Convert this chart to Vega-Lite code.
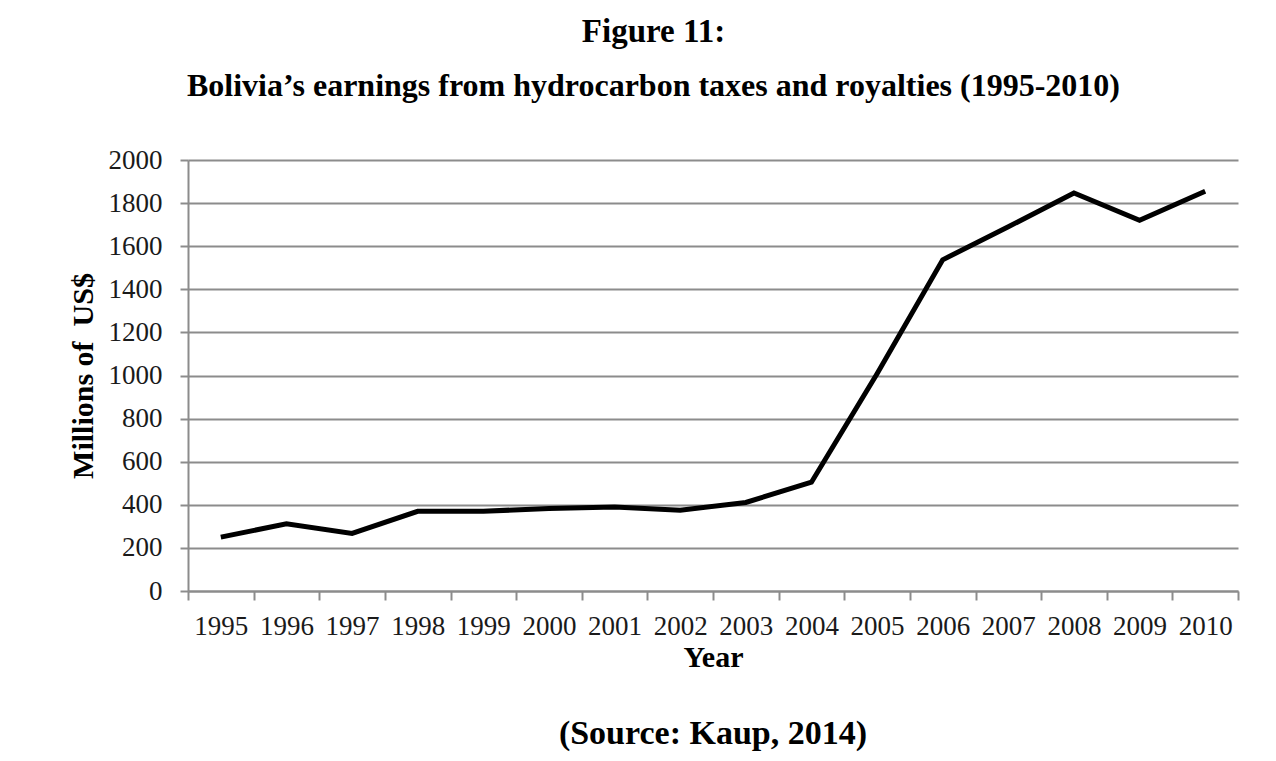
{
  "$schema": "https://vega.github.io/schema/vega-lite/v6.json",
  "background": "white",
  "padding": {"left": 68, "top": 16, "right": 30, "bottom": 10},
  "title": {
    "text": "Figure 11:",
    "subtitle": "Bolivia’s earnings from hydrocarbon taxes and royalties (1995-2010)",
    "font": "Liberation Serif",
    "fontSize": 33,
    "fontWeight": "bold",
    "color": "black",
    "subtitleFont": "Liberation Serif",
    "subtitleFontSize": 32,
    "subtitleFontWeight": "bold",
    "subtitleColor": "black",
    "subtitlePadding": 22,
    "anchor": "middle",
    "offset": 44
  },
  "vconcat": [
    {
      "width": 1050,
      "height": 431,
      "title": {
        "text": "(Source: Kaup, 2014)",
        "orient": "bottom",
        "font": "Liberation Serif",
        "fontSize": 34,
        "fontWeight": "bold",
        "color": "black",
        "anchor": "middle",
        "offset": 45
      },
      "data": {
        "values": [
          {"year": "1995", "earnings": 250},
          {"year": "1996", "earnings": 312},
          {"year": "1997", "earnings": 267},
          {"year": "1998", "earnings": 370},
          {"year": "1999", "earnings": 370},
          {"year": "2000", "earnings": 383},
          {"year": "2001", "earnings": 390},
          {"year": "2002", "earnings": 375},
          {"year": "2003", "earnings": 411},
          {"year": "2004", "earnings": 505},
          {"year": "2005", "earnings": 1008},
          {"year": "2006", "earnings": 1537},
          {"year": "2007", "earnings": 1690},
          {"year": "2008", "earnings": 1847},
          {"year": "2009", "earnings": 1720},
          {"year": "2010", "earnings": 1855}
        ]
      },
      "mark": {"type": "line", "color": "black", "strokeWidth": 5, "strokeJoin": "miter"},
      "encoding": {
        "x": {
          "field": "year",
          "type": "ordinal",
          "bandPosition": 0.5,
          "scale": {"type": "band", "paddingInner": 0, "paddingOuter": 0},
          "axis": {
            "title": "Year",
            "titleFont": "Liberation Serif",
            "titleFontSize": 30,
            "titleFontWeight": "bold",
            "titleColor": "black",
            "titlePadding": 3,
            "labelFont": "Liberation Serif",
            "labelFontSize": 27,
            "labelColor": "#1a1a1a",
            "labelAngle": 0,
            "labelPadding": 13,
            "tickBand": "extent",
            "tickSize": 9,
            "tickWidth": 2,
            "tickColor": "#8c8c8c",
            "domainColor": "#8c8c8c",
            "domainWidth": 2,
            "grid": false
          }
        },
        "y": {
          "field": "earnings",
          "type": "quantitative",
          "scale": {"domain": [0, 2000], "nice": false},
          "axis": {
            "title": "Millions of\u00a0 US$",
            "titleFont": "Liberation Serif",
            "titleFontSize": 30,
            "titleFontWeight": "bold",
            "titleColor": "black",
            "titlePadding": 10,
            "values": [0, 200, 400, 600, 800, 1000, 1200, 1400, 1600, 1800, 2000],
            "format": "d",
            "labelFont": "Liberation Serif",
            "labelFontSize": 27,
            "labelColor": "#1a1a1a",
            "labelPadding": 18,
            "tickSize": 8,
            "tickWidth": 2,
            "tickColor": "#8c8c8c",
            "domainColor": "#8c8c8c",
            "domainWidth": 2,
            "grid": true,
            "gridColor": "#8c8c8c",
            "gridWidth": 2
          }
        }
      }
    }
  ],
  "config": {
    "view": {"stroke": null},
    "concat": {"spacing": 0}
  }
}
